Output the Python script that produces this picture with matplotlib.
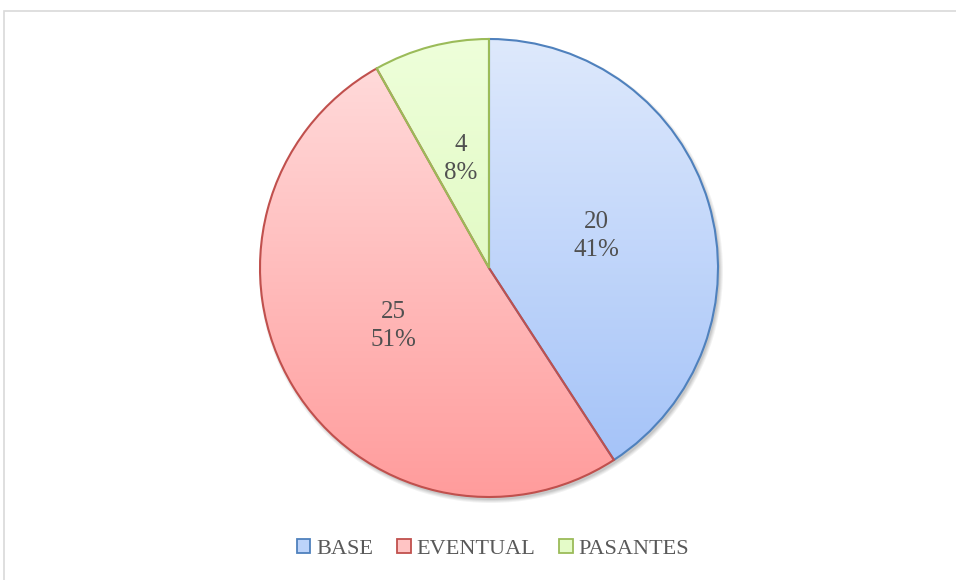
import numpy as np
import matplotlib
matplotlib.use('Agg')
import matplotlib.pyplot as plt
import matplotlib.colors as mcolors
from matplotlib.patches import Patch, Rectangle, Circle, Wedge

#----------------Data----------------
categories = ['BASE', 'EVENTUAL', 'PASANTES']
values = [20, 25, 4]

#Gradient colours (top, bottom) and edge colours for each slice
grad_top = ['#DEE9FC', '#FFDEDE', '#EEFFDA']
grad_bottom = ['#A0C0F8', '#FF9C9C', '#D6F5B0']
edge_colors = ['#4F81BD', '#C0504D', '#9BBB59']
legend_fill = ['#BCD3FA', '#FFC4C4', '#E4FBC8']

W, H = 956, 580
cx, cy, R = 489, H - 268, 229

fig = plt.figure(figsize=(W / 100, H / 100), dpi=100)
ax = fig.add_axes([0, 0, 1, 1])

#Chart frame (top/left edge visible, rest runs off the image)
fig.patches.append(Rectangle((4 / W, -0.1), 1.2, (H - 11) / H + 0.1, transform=fig.transFigure,
                             fill=False, edgecolor='#D9D9D9', linewidth=1.2, zorder=0))

#Soft shadow behind the pie
for k, a in enumerate([0.05, 0.05, 0.06, 0.07]):
    ax.add_patch(Circle((cx + 2, cy - 3), R + 3 - k, facecolor='black', alpha=a,
                        edgecolor='none', zorder=1))

def label_fmt(pct):
    val = int(round(pct * sum(values) / 100.0))
    return f'{val}\n{pct:.0f}%'

wedges, texts, autotexts = ax.pie(values, center=(cx, cy), radius=R, startangle=90,
                                  counterclock=False, autopct=label_fmt, pctdistance=0.49,
                                  wedgeprops=dict(linewidth=1.5), frame=True)
ax.set_aspect('equal')
ax.axis('off')

#Vertical gradient fill clipped to each wedge
for i, w in enumerate(wedges):
    w.set_facecolor('none')
    w.set_edgecolor(edge_colors[i])
    w.set_zorder(3)
    cmap = mcolors.LinearSegmentedColormap.from_list('', [grad_bottom[i], grad_top[i]])
    grad = np.linspace(0, 1, 256).reshape(-1, 1)
    im = ax.imshow(grad, cmap=cmap, origin='lower', aspect='auto',
                   extent=(cx - R, cx + R, cy - R, cy + R), zorder=2)
    clip = Wedge(w.center, w.r, w.theta1, w.theta2, transform=ax.transData)
    im.set_clip_path(clip)
ax.set_xlim(0, W)
ax.set_ylim(0, H)

for t in autotexts:
    t.set_fontfamily('Liberation Serif')
    t.set_fontsize(18)
    t.set_color('#505050')
    t.set_linespacing(1.35)
    t.set_zorder(5)

handles = [Patch(facecolor=legend_fill[i], edgecolor=edge_colors[i], linewidth=1.3, label=categories[i])
           for i in range(len(categories))]
leg = ax.legend(handles=handles, loc='center', bbox_to_anchor=(493 / W, 1 - 549 / H), ncol=3,
                frameon=False, handlelength=0.6, handleheight=0.6, handletextpad=0.25,
                columnspacing=1.1, prop={'family': 'Liberation Serif', 'size': 16})
for t in leg.get_texts():
    t.set_color('#595959')

fig.savefig('out.png', dpi=100)
